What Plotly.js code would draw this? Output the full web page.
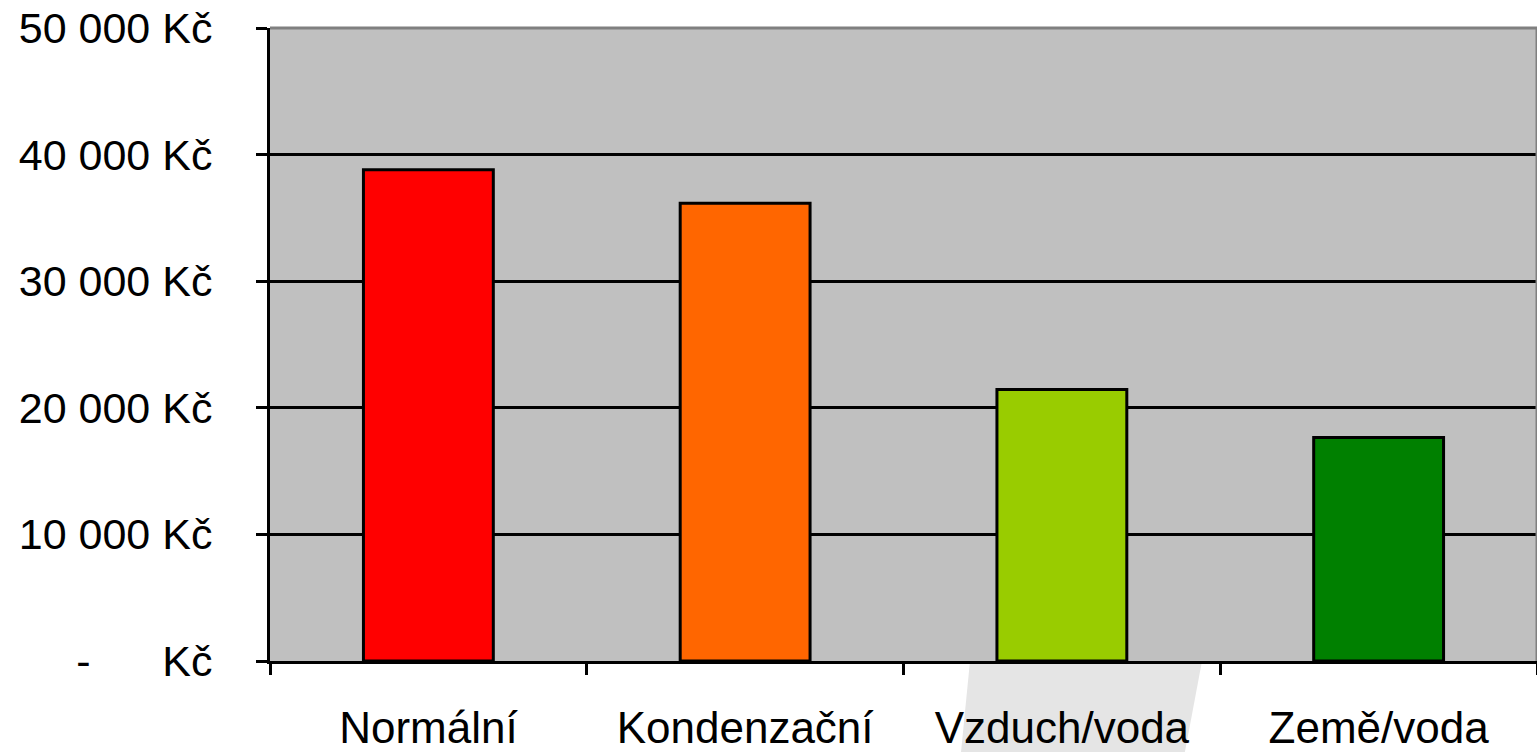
<!DOCTYPE html>
<html>
<head>
<meta charset="utf-8">
<script src="https://cdn.plot.ly/plotly-3.0.1.min.js"></script>
<style>
  body { margin: 0; background: #fff; }
  #plot { width: 1537px; height: 752px; }
</style>
</head>
<body>
<div id="plot"></div>
<script>
// heating types and yearly cost
var categories = ["Normální", "Kondenzační", "Vzduch/voda", "Země/voda"];
var costs = [38800, 36150, 21450, 17650];
var barColors = ["#FF0000", "#FF6600", "#99CC00", "#008000"];

var yTicks = [0, 10000, 20000, 30000, 40000, 50000];
var yTickText = ["-\u00a0\u00a0\u00a0\u00a0\u00a0\u00a0Kč", "10 000 Kč", "20 000 Kč", "30 000 Kč", "40 000 Kč", "50 000 Kč"];

var trace = {
  x: categories,
  y: costs,
  type: "bar",
  marker: { color: barColors, line: { color: "#000", width: 3 } },
  hoverinfo: "x+y"
};

var layout = {
  width: 1537,
  height: 752,
  margin: { l: 270, r: 0, t: 28, b: 91 },
  paper_bgcolor: "#FFFFFF",
  plot_bgcolor: "#C0C0C0",
  bargap: 0.59,
  showlegend: false,
  font: { family: "Liberation Sans, Arial, sans-serif", color: "#000", size: 43 },
  xaxis: {
    type: "category",
    range: [-0.5, 3.5],
    tickson: "boundaries",
    ticks: "outside",
    ticklen: 11,
    tickwidth: 3,
    tickcolor: "#000",
    showgrid: false,
    showline: true,
    linecolor: "#000",
    linewidth: 3,
    ticklabelstandoff: 26,
    tickfont: { size: 44 }
  },
  yaxis: {
    range: [0, 50000],
    tickvals: yTicks,
    ticktext: yTickText,
    ticks: "outside",
    ticklen: 11,
    tickwidth: 3,
    tickcolor: "#000",
    showgrid: true,
    gridcolor: "#000",
    gridwidth: 3,
    zeroline: false,
    showline: true,
    linecolor: "#000",
    linewidth: 3,
    ticklabelstandoff: 35,
    tickfont: { size: 43 }
  },
  shapes: [
    // plot border (top and right) in grey
    { type: "line", xref: "paper", yref: "paper", x0: 0, x1: 1, y0: 1, y1: 1,
      line: { color: "#808080", width: 3 }, layer: "above" },
    { type: "line", xref: "paper", yref: "paper", x0: 1, x1: 1, y0: 0, y1: 1,
      line: { color: "#808080", width: 3 }, layer: "above" },
    // faint watermark below the axis
    { type: "path", xref: "paper", yref: "paper", layer: "below",
      path: "M 0.5525,0 L 0.7356,0 L 0.7221,-0.1438 L 0.5454,-0.1438 Z",
      fillcolor: "#E5E5E5", line: { width: 0 } }
  ]
};

Plotly.newPlot("plot", [trace], layout, { displayModeBar: false, staticPlot: true });
</script>
</body>
</html>
